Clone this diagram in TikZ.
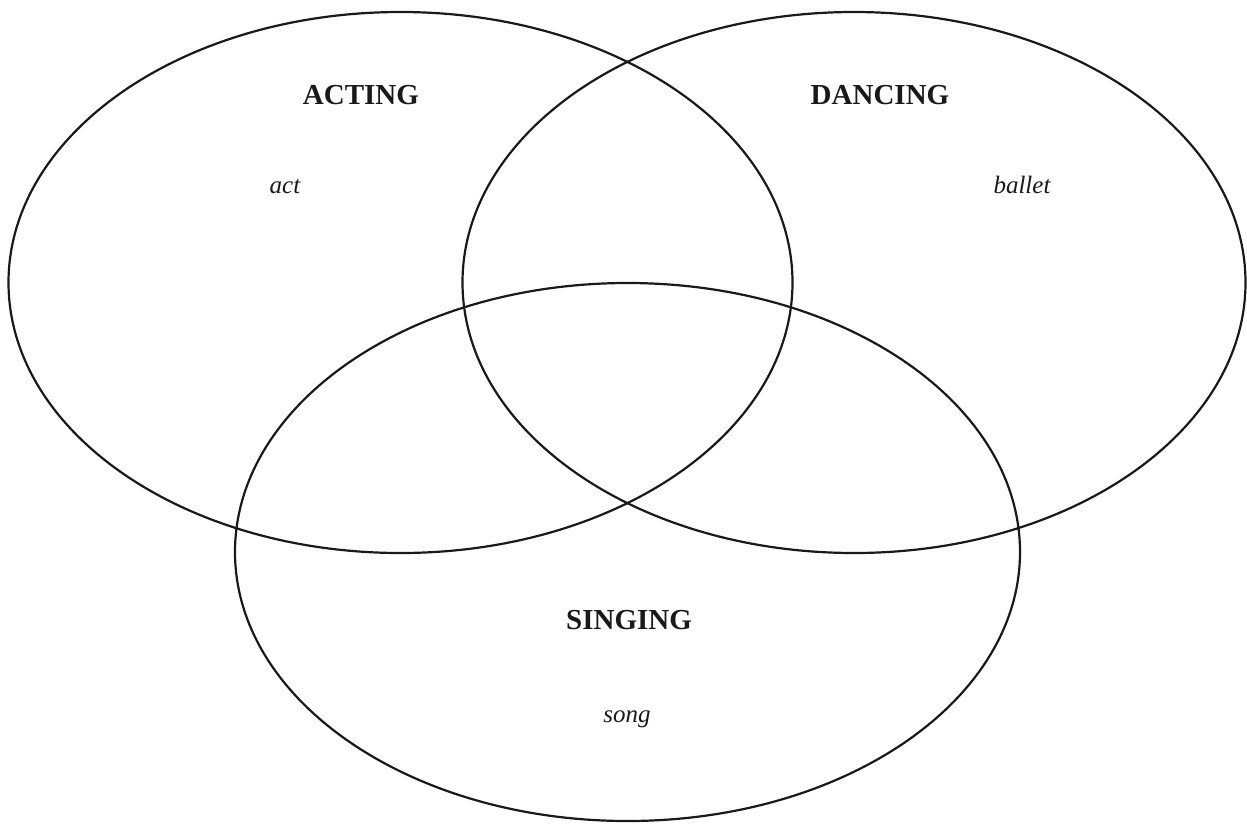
\documentclass[tikz,border=0pt]{standalone}
\usepackage{fontspec}
\setmainfont{Liberation Serif}
\usepackage{xcolor}
\usepackage{tikz}
\definecolor{inkline}{RGB}{25,25,25}
\tikzset{
  setring/.style={line width=2.2pt, draw=inkline},
  settitle/.style={anchor=base, font=\fontsize{29}{32}\selectfont\bfseries, text=inkline},
  setitem/.style={anchor=base, font=\fontsize{25}{28}\selectfont\itshape, text=inkline}
}

\begin{document}
\begin{tikzpicture}[x=1pt, y=-1pt]
  \useasboundingbox (0,0) rectangle (1247,823);

  % Acting ring
  \draw[setring] (400.5,282.5) ellipse [x radius=392, y radius=270.5];
  % Dancing ring
  \draw[setring] (854,282.5) ellipse [x radius=391.5, y radius=270.5];
  % Singing ring
  \draw[setring] (627.5,552) ellipse [x radius=392.5, y radius=269];

  % Set names
  \node[settitle] (acting) at (361,104) {ACTING};
  \node[settitle] (dancing) at (880,104) {DANCING};
  \node[settitle] (singing) at (629,629) {SINGING};

  % Members
  \node[setitem] (act) at (285,193) {act};
  \node[setitem] (ballet) at (1022,193) {ballet};
  \node[setitem] (song) at (627,722) {song};
\end{tikzpicture}
\end{document}
